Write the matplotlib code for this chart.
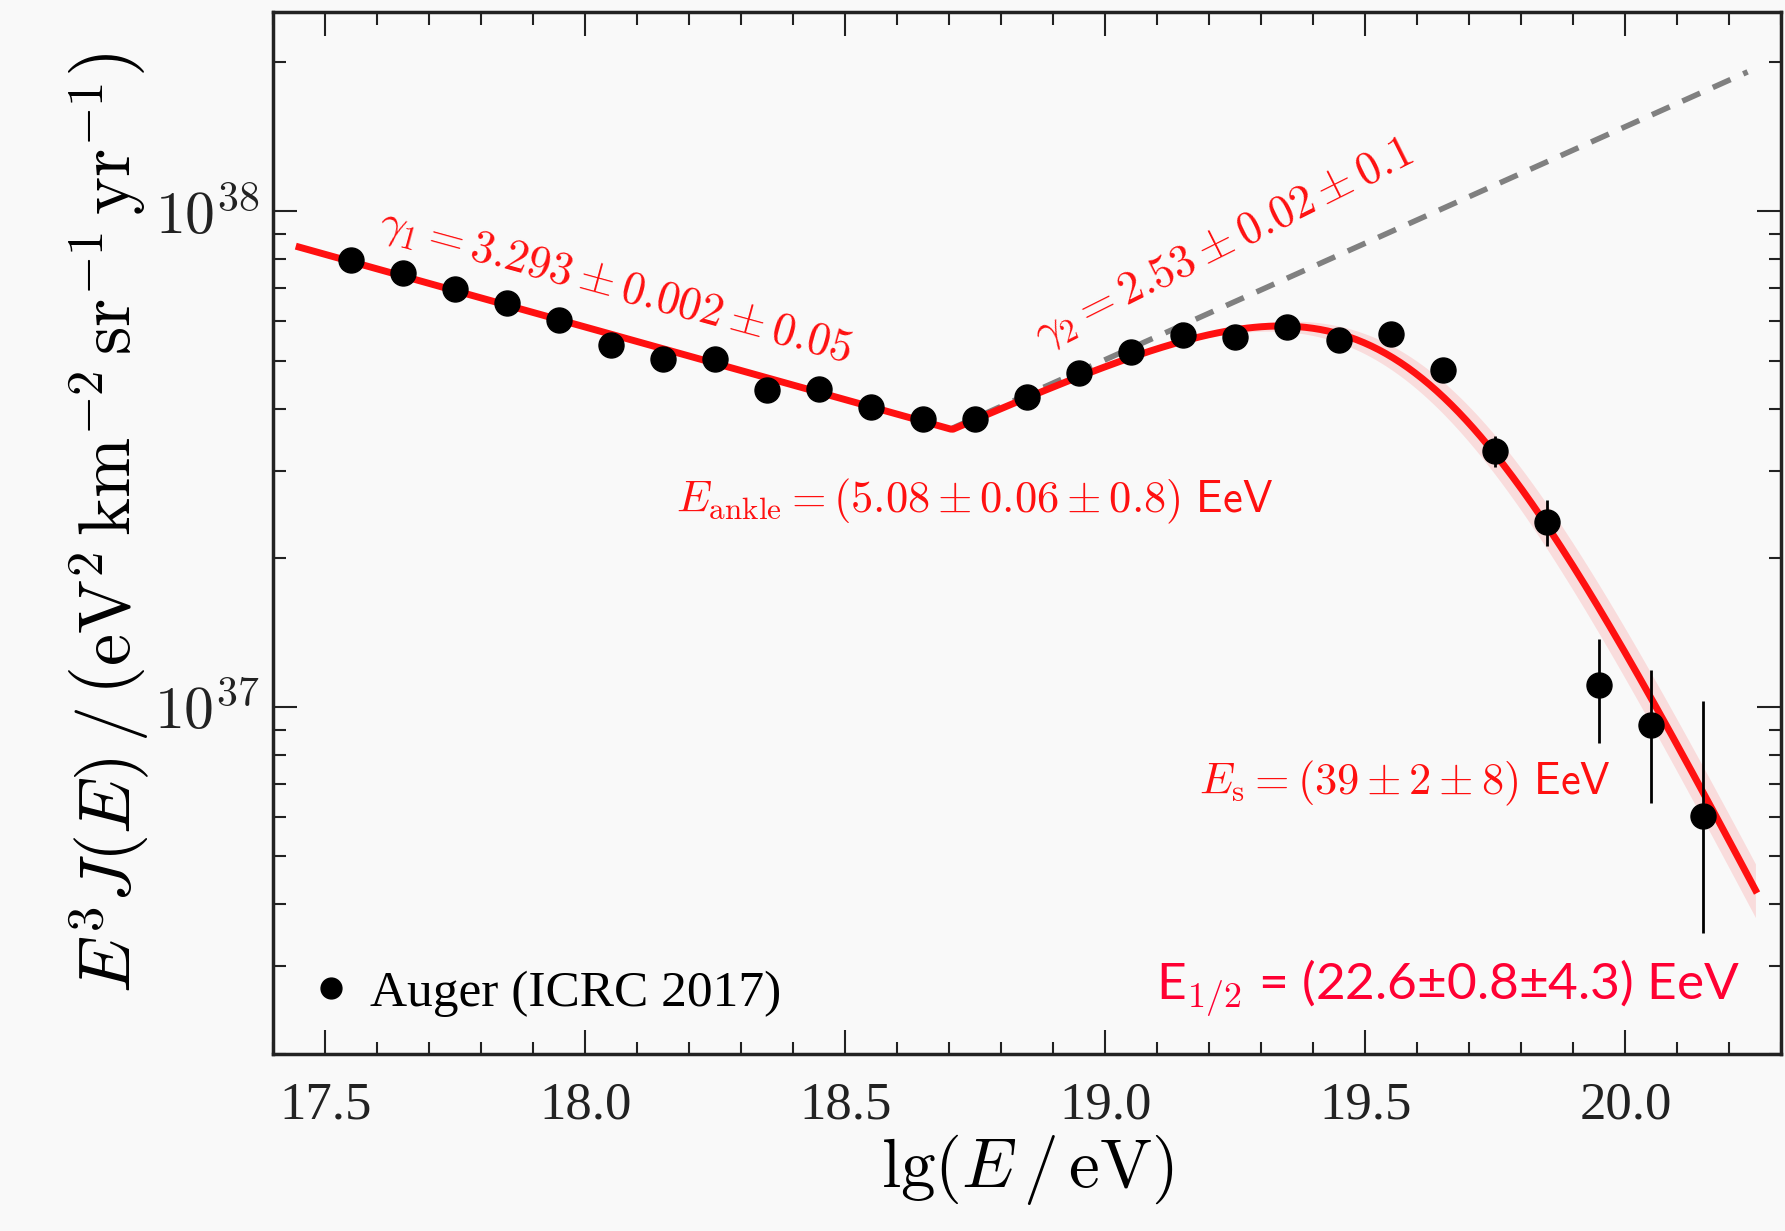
import numpy as np
import matplotlib
matplotlib.use("Agg")
import matplotlib.pyplot as plt
from matplotlib.ticker import FixedLocator, LogLocator, NullFormatter, FuncFormatter
from matplotlib.lines import Line2D

plt.rcParams['mathtext.fontset'] = 'cm'

# Auger ICRC 2017 spectrum
lgE = [17.55, 17.65, 17.75, 17.85, 17.95, 18.05, 18.15, 18.25, 18.35, 18.45,
       18.55, 18.65, 18.75, 18.85, 18.95, 19.05, 19.15, 19.25, 19.35, 19.45,
       19.55, 19.65, 19.75, 19.85, 19.95, 20.05, 20.15]
flux = [7.96e37, 7.50e37, 6.97e37, 6.53e37, 6.05e37, 5.38e37, 5.03e37, 5.03e37, 4.36e37, 4.39e37,
        4.03e37, 3.81e37, 3.81e37, 4.23e37, 4.73e37, 5.20e37, 5.62e37, 5.58e37, 5.85e37, 5.51e37,
        5.65e37, 4.79e37, 3.28e37, 2.36e37, 1.107e37, 9.2e36, 6.03e36]
flux_lo = [7.96e37, 7.50e37, 6.97e37, 6.53e37, 6.05e37, 5.38e37, 5.03e37, 5.03e37, 4.36e37, 4.39e37,
           4.03e37, 3.81e37, 3.81e37, 4.23e37, 4.73e37, 5.20e37, 5.62e37, 5.58e37, 5.85e37, 5.51e37,
           5.65e37, 4.79e37, 3.05e37, 2.11e37, 8.45e36, 6.4e36, 3.5e36]
flux_hi = [7.96e37, 7.50e37, 6.97e37, 6.53e37, 6.05e37, 5.38e37, 5.03e37, 5.03e37, 4.36e37, 4.39e37,
           4.03e37, 3.81e37, 3.81e37, 4.23e37, 4.73e37, 5.20e37, 5.62e37, 5.58e37, 5.85e37, 5.51e37,
           5.65e37, 4.79e37, 3.53e37, 2.62e37, 1.37e37, 1.19e37, 1.03e37]

# fit parameters printed on the chart
gamma1 = 3.293
gamma2 = 2.53
E_ankle = 5.08e18
E_s = 39e18
dE_s = 2e18
dgamma = 2.5
J_ankle = 3.63e37

def fit(E, Es):
    below = J_ankle * (E / E_ankle) ** (3 - gamma1)
    above = (J_ankle * (E / E_ankle) ** (3 - gamma2)
             * (1 + (E_ankle / Es) ** dgamma) / (1 + (E / Es) ** dgamma))
    return np.where(E < E_ankle, below, above)

red = '#ff1010'
bg = '#f9f9f9'

fig = plt.figure(figsize=(17.85, 12.31), dpi=100, facecolor=bg)
ax = fig.add_axes([0.153, 0.144, 0.845, 0.846], facecolor=bg)

x = np.linspace(17.45, 20.25, 600)
E = 10 ** x
ax.fill_between(x, fit(E, E_s - dE_s), fit(E, E_s + dE_s), color=red, alpha=0.12, lw=0)
ax.plot(x, fit(E, E_s), color=red, lw=5, zorder=3)

xd = np.linspace(np.log10(E_ankle), 20.235, 200)
Ed = 10 ** xd
ax.plot(xd, J_ankle * (Ed / E_ankle) ** (3 - gamma2) * (1 + (E_ankle / E_s) ** dgamma),
        color='#808080', lw=4, ls=(0, (3.5, 2.5)), zorder=2)

flux = np.array(flux)
yerr = [flux - np.array(flux_lo), np.array(flux_hi) - flux]
ax.errorbar(lgE, flux, yerr=yerr, fmt='o', color='black', ms=18, elinewidth=2,
            capsize=0, zorder=4)

ax.set_yscale('log')
ax.set_xlim(17.4, 20.3)
ax.set_ylim(2e36, 2.52e38)

ax.xaxis.set_major_locator(FixedLocator([17.5, 18.0, 18.5, 19.0, 19.5, 20.0]))
ax.xaxis.set_minor_locator(FixedLocator(np.arange(17.4, 20.31, 0.1)))
ax.set_xticklabels(['17.5', '18.0', '18.5', '19.0', '19.5', '20.0'],
                   fontfamily='Liberation Serif', fontsize=38)
ax.yaxis.set_major_locator(LogLocator(base=10, numticks=10))
ax.yaxis.set_minor_locator(LogLocator(base=10, subs=np.arange(2, 10), numticks=20))
ax.yaxis.set_major_formatter(FuncFormatter(lambda v, p: r'$10^{%d}$' % round(np.log10(v))))
ax.yaxis.set_minor_formatter(NullFormatter())

ax.tick_params(which='both', direction='in', top=True, right=True, width=1.5, colors='#222222')
ax.tick_params(which='major', length=17)
ax.tick_params(which='minor', length=9)
ax.tick_params(axis='x', pad=20)
ax.tick_params(axis='y', labelsize=43, pad=10)
for s in ax.spines.values():
    s.set_linewidth(2.5)
    s.set_color('#222222')

ax.set_xlabel(r'$\mathrm{lg}(E\,/\,\mathrm{eV})$', fontsize=50)
ax.xaxis.set_label_coords(0.5, -0.075)
ax.set_ylabel(r'$E^3J(E)\,/\,\left(\mathrm{eV}^2\,\mathrm{km}^{-2}\,\mathrm{sr}^{-1}\,\mathrm{yr}^{-1}\right)$',
              fontsize=52)
ax.yaxis.set_label_coords(-0.08, 0.51)

ax.text(540 / 1568, 1 - 252 / 1081, r'$\gamma_1 = 3.293 \pm 0.002 \pm 0.05$', transform=fig.transFigure,
        color=red, fontsize=33, rotation=-15.3, ha='center', va='center')
ax.text(1075 / 1568, 1 - 215 / 1081, r'$\gamma_2 = 2.53 \pm 0.02 \pm 0.1$', transform=fig.transFigure,
        color=red, fontsize=33, rotation=26.6, ha='center', va='center')
ax.text(856 / 1568, 1 - 440 / 1081, r'$E_{\rm ankle} = (5.08 \pm 0.06 \pm 0.8)\ \mathsf{EeV}$',
        transform=fig.transFigure, color=red, fontsize=32, ha='center', va='center')
ax.text(1234 / 1568, 1 - 688 / 1081, r'$E_{\rm s} = (39 \pm 2 \pm 8)\ \mathsf{EeV}$',
        transform=fig.transFigure, color=red, fontsize=32, ha='center', va='center')
ax.text(1528 / 1568, 1 - 868 / 1081, r'E$_{1/2}$ = (22.6±0.8±4.3) EeV', transform=fig.transFigure,
        color='#ff0033', fontsize=37, fontfamily='Lato', ha='right', va='center')

handle = Line2D([], [], marker='o', ls='none', color='black', ms=15)
ax.legend([handle], ['Auger (ICRC 2017)'], loc='center left', bbox_to_anchor=(0.013, 0.058),
          frameon=False, prop={'family': 'Liberation Serif', 'size': 37},
          handlelength=1.5, handletextpad=0.0, borderaxespad=0, borderpad=0)

fig.savefig('out.png', dpi=100, facecolor=bg)
